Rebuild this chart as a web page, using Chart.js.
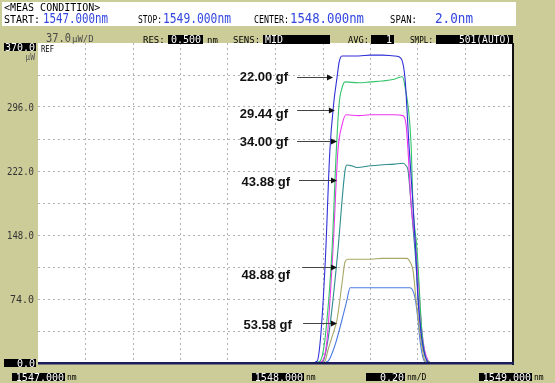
<!DOCTYPE html>
<html><head><meta charset="utf-8">
<script src="https://cdn.jsdelivr.net/npm/chart.js@4.4.1/dist/chart.umd.min.js"></script>
<style>html,body{margin:0;padding:0;background:#cccc99}canvas{display:block}</style>
</head><body>
<canvas id="osa" width="555" height="383"></canvas>
<script>
// axes: wavelength (nm) and power (uW), 10 divisions each
const xMin = 1547.0, xMax = 1549.0;
const yMin = 0, yMax = 370;
const yLabels = [370.0, 296.0, 222.0, 148.0, 74.0, 0.0];

const seriesNames = ['22.00 gf', '29.44 gf', '34.00 gf', '43.88 gf', '48.88 gf', '53.58 gf'];
const seriesColors = ['#2f2fd8', '#33c46a', '#ee36ee', '#2f8c8c', '#aaa866', '#4d7be2'];

// spectra
const wl22 = [1547.000, 1548.150, 1548.175, 1548.190, 1548.210, 1548.229, 1548.245, 1548.259, 1548.268, 1548.280, 1548.350, 1548.400, 1548.450, 1548.500, 1548.520, 1548.545, 1548.562, 1548.579, 1548.590, 1548.600, 1548.613, 1548.629, 1548.642, 1548.660, 1549.000];
const pw22 = [0, 0, 2, 30, 120, 246, 300, 330, 348, 355, 355, 356, 356, 355, 354, 330, 252, 183, 131, 73, 35, 9, 1, 0, 0];

const wl29 = [1547.000, 1548.160, 1548.187, 1548.208, 1548.238, 1548.255, 1548.268, 1548.280, 1548.293, 1548.350, 1548.400, 1548.450, 1548.500, 1548.533, 1548.545, 1548.571, 1548.579, 1548.596, 1548.617, 1548.638, 1548.660, 1549.000];
const pw29 = [0, 0, 2, 27, 131, 240, 300, 318, 325, 324, 325, 326, 328, 331, 320, 252, 183, 131, 35, 3, 0, 0];

const wl34 = [1547.000, 1548.170, 1548.196, 1548.217, 1548.242, 1548.263, 1548.280, 1548.297, 1548.350, 1548.400, 1548.450, 1548.500, 1548.537, 1548.550, 1548.558, 1548.571, 1548.592, 1548.617, 1548.642, 1548.660, 1549.000];
const pw34 = [0, 0, 2, 27, 131, 246, 275, 287, 286, 287, 287, 287, 286, 275, 246, 183, 131, 35, 3, 0, 0];

const wl43 = [1547.000, 1548.175, 1548.200, 1548.221, 1548.242, 1548.263, 1548.293, 1548.301, 1548.320, 1548.343, 1548.400, 1548.440, 1548.500, 1548.537, 1548.550, 1548.558, 1548.571, 1548.587, 1548.613, 1548.638, 1548.660, 1549.000];
const pw43 = [0, 0, 2, 27, 73, 131, 223, 229, 228, 226, 228, 229, 230, 231, 228, 223, 183, 131, 35, 3, 0, 0];

const wl48 = [1547.000, 1548.185, 1548.208, 1548.221, 1548.240, 1548.259, 1548.280, 1548.293, 1548.305, 1548.400, 1548.450, 1548.500, 1548.554, 1548.566, 1548.579, 1548.592, 1548.608, 1548.629, 1548.650, 1549.000];
const pw48 = [0, 0, 2, 15, 32, 50, 92, 117, 120, 120, 121, 121, 121, 117, 107, 73, 35, 3, 0, 0];

const wl53 = [1547.000, 1548.195, 1548.221, 1548.251, 1548.280, 1548.301, 1548.314, 1548.400, 1548.500, 1548.566, 1548.587, 1548.600, 1548.608, 1548.625, 1548.645, 1549.000];
const pw53 = [0, 0, 2, 21, 50, 73, 87, 87, 87, 87, 76, 50, 27, 3, 0, 0];

// arrow annotations (data units)
const arrowY    = [331, 292, 257, 212, 111, 46];
const arrowTipX = [1548.242, 1548.250, 1548.259, 1548.259, 1548.259, 1548.259];
const arrowTailX= [1548.091, 1548.091, 1548.091, 1548.099, 1548.112, 1548.116];
const noteY     = [331, 289, 256, 210, 102, 44];
const noteRightX= [1548.053, 1548.053, 1548.053, 1548.061, 1548.061, 1548.069];

const waves = [wl22, wl29, wl34, wl43, wl48, wl53];
const powers = [pw22, pw29, pw34, pw43, pw48, pw53];

const MONO = '"DejaVu Sans Mono", monospace';

function txt(ctx, s, x, y, font, color, align, maxW){
  ctx.font = font; ctx.fillStyle = color; ctx.textAlign = align || 'left'; ctx.textBaseline = 'alphabetic';
  if(maxW) ctx.fillText(s, x, y, maxW); else ctx.fillText(s, x, y);
}
function blk(ctx, x, y, w, h){ ctx.fillStyle = '#000'; ctx.fillRect(x, y, w, h); }

const osaScreen = {
  id: 'osaScreen',
  beforeDraw(chart){
    const {ctx, chartArea:a} = chart;
    ctx.save();
    ctx.fillStyle = '#cccc99'; ctx.fillRect(0, 0, chart.width, chart.height);
    ctx.fillStyle = '#ffffff';
    ctx.fillRect(a.left, a.top, a.right - a.left, a.bottom - a.top);
    ctx.fillRect(2, 2, 514, 24);
    ctx.restore();
  },
  afterDraw(chart){
    const {ctx, chartArea:a, scales:{x, y}} = chart;
    ctx.save();
    // frame
    ctx.fillStyle = '#111'; ctx.fillRect(a.right - 1, a.top, 2, a.bottom - a.top + 2);
    ctx.fillStyle = '#1c1c5c'; ctx.fillRect(a.left, a.bottom - 1, a.right - a.left + 1, 2.5);

    // header
    txt(ctx, '<MEAS CONDITION>', 4, 11, '10px ' + MONO, '#000', 'left', 100);
    const blue = '#3346e0';
    txt(ctx, 'START:', 4, 23, '10px ' + MONO, '#000', 'left', 38);
    txt(ctx, '1547.000nm', 43, 23, '14px ' + MONO, blue, 'left', 65);
    txt(ctx, 'STOP:', 138, 23, '10px ' + MONO, '#000', 'left', 24);
    txt(ctx, '1549.000nm', 163, 23, '14px ' + MONO, blue, 'left', 68);
    txt(ctx, 'CENTER:', 254, 23, '10px ' + MONO, '#000', 'left', 35);
    txt(ctx, '1548.000nm', 290, 23, '14px ' + MONO, blue, 'left', 74);
    txt(ctx, 'SPAN:', 390, 23, '10px ' + MONO, '#000', 'left', 27);
    txt(ctx, '2.0nm', 435, 23, '14px ' + MONO, blue, 'left', 38);

    // second row
    txt(ctx, '37.0', 46, 42, '13px ' + MONO, '#4a4a4a', 'left', 25);
    txt(ctx, '\u00b5W/D', 72, 42, '9px ' + MONO, '#4a4a4a', 'left', 25);
    txt(ctx, 'RES:', 143, 43, '9px ' + MONO, '#000', 'left', 23);
    blk(ctx, 168, 35, 35, 9); txt(ctx, '0.500', 201, 43, '10px ' + MONO, '#fff', 'right', 31);
    txt(ctx, 'nm', 207, 43, '9px ' + MONO, '#000', 'left', 14);
    txt(ctx, 'SENS:', 233, 43, '9px ' + MONO, '#000', 'left', 28);
    blk(ctx, 263, 35, 67, 9); txt(ctx, 'MID', 265, 43, '10px ' + MONO, '#fff', 'left', 18);
    txt(ctx, 'AVG:', 348, 43, '9px ' + MONO, '#000', 'left', 21);
    blk(ctx, 371, 35, 23, 9); txt(ctx, '1', 392, 43, '10px ' + MONO, '#fff', 'right');
    txt(ctx, 'SMPL:', 410, 43, '9px ' + MONO, '#000', 'left', 23);
    blk(ctx, 436, 35, 77, 9); txt(ctx, '501(AUTO)', 511, 43, '10px ' + MONO, '#fff', 'right', 52);

    // power axis labels
    yLabels.forEach(v => {
      const py = y.getPixelForValue(v);
      const s = v.toFixed(1);
      if(v === yMax){
        blk(ctx, 4, a.top, 32, 8); txt(ctx, s, 35, a.top + 7.5, '10px ' + MONO, '#fff', 'right', 30);
      } else if(v === yMin){
        blk(ctx, 4, py - 4, 32, 8); txt(ctx, s, 35, py + 3.5, '10px ' + MONO, '#fff', 'right', 30);
      } else {
        txt(ctx, s, 34, py + 3.5, '10px ' + MONO, '#333', 'right', 27);
      }
    });
    txt(ctx, '\u00b5W', 35, 60, '8px ' + MONO, '#555', 'right');
    txt(ctx, 'REF', 41, 52, '8px ' + MONO, '#000', 'left', 13);

    // bottom row
    blk(ctx, 12, 373, 53, 8); txt(ctx, '1547.000', 64, 380.5, '10px ' + MONO, '#fff', 'right', 51);
    txt(ctx, 'nm', 67, 380, '8px ' + MONO, '#000', 'left', 11);
    blk(ctx, 252, 373, 52, 8); txt(ctx, '1548.000', 303, 380.5, '10px ' + MONO, '#fff', 'right', 51);
    txt(ctx, 'nm', 306, 380, '8px ' + MONO, '#000', 'left', 11);
    blk(ctx, 366, 373, 39, 8); txt(ctx, '0.20', 404, 380.5, '10px ' + MONO, '#fff', 'right', 25);
    txt(ctx, 'nm/D', 407, 380, '8px ' + MONO, '#000', 'left', 22);
    blk(ctx, 479, 373, 53, 8); txt(ctx, '1549.000', 531, 380.5, '10px ' + MONO, '#fff', 'right', 51);
    txt(ctx, 'nm', 534, 380, '8px ' + MONO, '#000', 'left', 11);

    // load labels with arrows
    seriesNames.forEach((name, i) => {
      const ay = Math.round(y.getPixelForValue(arrowY[i])) + 0.5;
      const x0 = x.getPixelForValue(arrowTailX[i]);
      const x1 = x.getPixelForValue(arrowTipX[i]);
      ctx.strokeStyle = '#444'; ctx.lineWidth = 1;
      ctx.beginPath(); ctx.moveTo(x0, ay); ctx.lineTo(x1 - 4, ay); ctx.stroke();
      ctx.fillStyle = '#111';
      ctx.beginPath(); ctx.moveTo(x1, ay); ctx.lineTo(x1 - 6, ay - 3); ctx.lineTo(x1 - 6, ay + 3); ctx.closePath(); ctx.fill();
      txt(ctx, name, x.getPixelForValue(noteRightX[i]), y.getPixelForValue(noteY[i]) + 4.5,
          'bold 13px "Liberation Sans", Arial, sans-serif', '#111', 'right');
    });
    ctx.restore();
  }
};

const datasets = seriesNames.map((name, i) => ({
  label: name,
  data: waves[i].map((w, k) => ({x: w, y: powers[i][k]})),
  borderColor: seriesColors[i],
  borderWidth: 1.1,
  pointRadius: 0,
  fill: false,
  cubicInterpolationMode: 'monotone',
  clip: 4
}));

new Chart(document.getElementById('osa'), {
  type: 'line',
  data: { datasets },
  options: {
    responsive: false,
    animation: false,
    events: [],
    layout: { padding: { left: 0, top: 43, right: 42, bottom: 20 } },
    plugins: { legend: { display: false }, tooltip: { enabled: false } },
    scales: {
      x: {
        type: 'linear', min: xMin, max: xMax,
        ticks: { display: false, count: 11 },
        grid: { drawTicks: false, color: c => (c.index === 0 || c.index === 10) ? 'rgba(0,0,0,0)' : '#b2b2b2' },
        border: { display: false, dash: [2, 3] },
        afterFit: s => { s.height = 0; }
      },
      y: {
        min: yMin, max: yMax,
        ticks: { display: false, count: 11 },
        grid: { drawTicks: false, color: c => (c.index === 0 || c.index === 10) ? 'rgba(0,0,0,0)' : '#b2b2b2' },
        border: { display: false, dash: [2, 3] },
        afterFit: s => { s.width = 38; }
      }
    }
  },
  plugins: [osaScreen]
});
</script>
</body></html>
